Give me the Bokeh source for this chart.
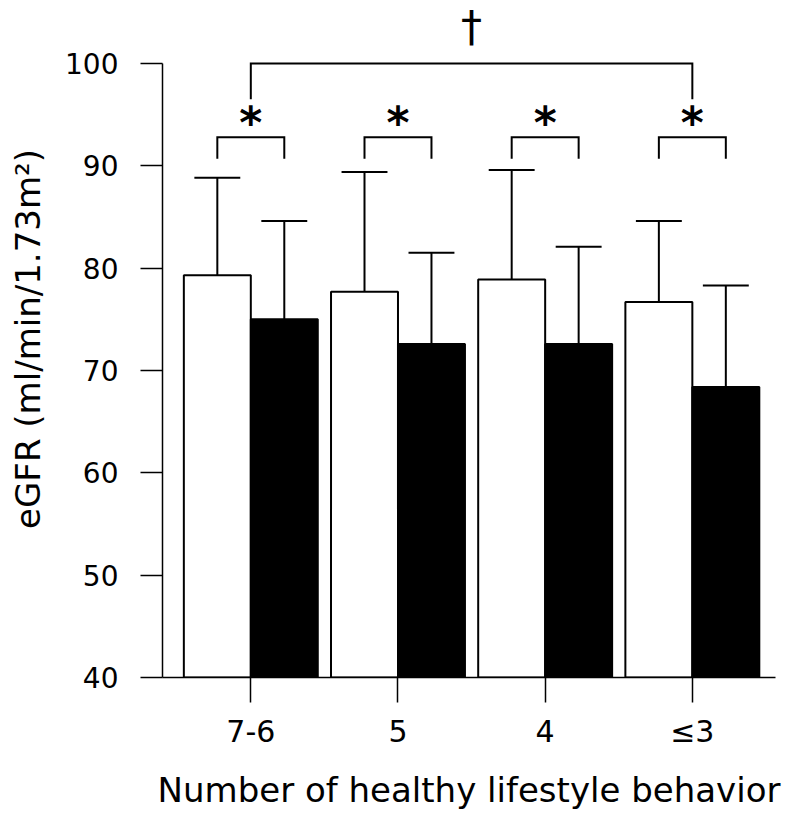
from bokeh.plotting import figure
from bokeh.models import Range1d, FixedTicker, ColumnDataSource
from bokeh.embed import file_html
from bokeh.resources import INLINE
from bokeh.core.properties import value

# ---- data ----
categories = ["7-6", "5", "4", "\u22643"]
cat_pos = [1, 2, 3, 4]
white_mean = [79.3, 77.7, 78.9, 76.7]
white_sd = [9.55, 11.7, 10.7, 7.9]
black_mean = [75.0, 72.6, 72.6, 68.4]
black_sd = [9.6, 8.9, 9.5, 9.9]
y_ticks = [40, 50, 60, 70, 80, 90, 100]

# significance markers (data units)
pair_bracket_top = 92.8
pair_bracket_leg = 90.7
pair_mark_y = 94.2
overall_bracket_top = 100.0
overall_bracket_leg = 96.5
overall_mark_y = 103.6

FONT = "DejaVu Sans"
half = 0.2275
bar_w = 0.455
cap = 0.156

p = figure(width=786, height=813, output_backend="svg", toolbar_location=None,
           x_range=Range1d(0.40, 4.565), y_range=Range1d(40, 106.16),
           min_border_left=162, min_border_right=11, min_border_top=0,
           min_border_bottom=136)
p.outline_line_color = None
p.xgrid.grid_line_color = None
p.ygrid.grid_line_color = None

wx = [c - half for c in cat_pos]
bx = [c + half for c in cat_pos]
w_up = [m + s for m, s in zip(white_mean, white_sd)]
b_up = [m + s for m, s in zip(black_mean, black_sd)]

src_w = ColumnDataSource(dict(x=wx, top=white_mean, up=w_up,
                              cl=[x - cap for x in wx], cr=[x + cap for x in wx]))
src_b = ColumnDataSource(dict(x=bx, top=black_mean, up=b_up,
                              cl=[x - cap for x in bx], cr=[x + cap for x in bx]))

for src, fill in ((src_w, "white"), (src_b, "black")):
    p.segment(x0="x", y0="top", x1="x", y1="up", source=src, line_color="black", line_width=2)
    p.segment(x0="cl", y0="up", x1="cr", y1="up", source=src, line_color="black", line_width=2)
    p.vbar(x="x", width=bar_w, top="top", bottom=40, source=src,
           fill_color=fill, line_color="black", line_width=2)

# pair brackets
xs = [[l, l, r, r] for l, r in zip(wx, bx)]
ys = [[pair_bracket_leg, pair_bracket_top, pair_bracket_top, pair_bracket_leg] for _ in cat_pos]
p.multi_line(xs=xs, ys=ys, line_color="black", line_width=2, line_join="miter")
p.text(x=cat_pos, y=[pair_mark_y] * len(cat_pos), text=["*"] * len(cat_pos),
       text_font=value(FONT), text_font_style="bold", text_font_size="44px",
       text_align="center", text_baseline="middle", text_color="black")

# overall bracket
p.multi_line(xs=[[cat_pos[0], cat_pos[0], cat_pos[-1], cat_pos[-1]]],
             ys=[[overall_bracket_leg, overall_bracket_top, overall_bracket_top, overall_bracket_leg]],
             line_color="black", line_width=2, line_join="miter")
p.text(x=[(cat_pos[0] + cat_pos[-1]) / 2], y=[overall_mark_y], text=["\u2020"],
       text_font=value(FONT), text_font_size="42px",
       text_align="center", text_baseline="middle", text_color="black")

# axes
p.xaxis.ticker = FixedTicker(ticks=cat_pos)
p.xaxis.major_label_overrides = {c: lab for c, lab in zip(cat_pos, categories)}
p.xaxis.axis_label = "Number of healthy lifestyle behavior"
p.yaxis.ticker = FixedTicker(ticks=y_ticks)
p.yaxis.axis_label = "eGFR (ml/min/1.73m\u00b2)"
p.yaxis.bounds = (40, 100)

for ax in (p.xaxis[0], p.yaxis[0]):
    ax.axis_line_color = "black"
    ax.axis_line_width = 1.5
    ax.major_tick_line_color = "black"
    ax.major_tick_line_width = 1.5
    ax.major_tick_in = 0
    ax.minor_tick_line_color = None
    ax.major_label_text_font = FONT
    ax.major_label_text_color = "black"
    ax.axis_label_text_font = FONT
    ax.axis_label_text_font_style = "normal"
    ax.axis_label_text_color = "black"

p.xaxis.major_tick_out = 25
p.xaxis.major_label_standoff = 11
p.xaxis.major_label_text_font_size = "30px"
p.xaxis.axis_label_text_font_size = "34px"
p.xaxis.axis_label_standoff = 18

p.yaxis.major_tick_out = 22
p.yaxis.major_label_standoff = 22
p.yaxis.major_label_text_font_size = "28px"
p.yaxis.axis_label_text_font_size = "34px"
p.yaxis.axis_label_standoff = 14

open("out.html", "w").write(file_html(p, INLINE))
